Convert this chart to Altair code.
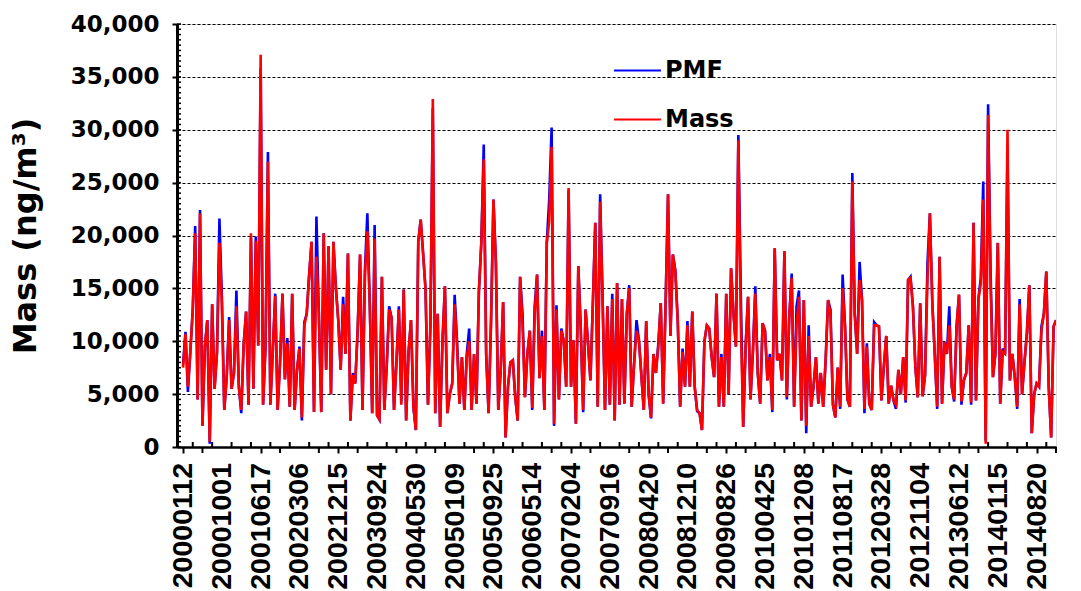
import altair as alt
import pandas as pd

# Sampling dates shown on the category axis (one label every 16 samples)
date_labels = [
    "20000112", "20001001", "20010617", "20020306", "20021215", "20030924",
    "20040530", "20050109", "20050925", "20060514", "20070204", "20070916",
    "20080420", "20081210", "20090826", "20100425", "20101208", "20110817",
    "20120328", "20121104", "20130612", "20140115", "20140820",
]
samples_per_label = 16

# Measured PM mass, thousand ng/m3
mass_k = [
    7.5, 10.7, 5.7, 9.0, 13.0, 20.2, 4.5, 22.1, 2.0, 9.5, 12.0, 0.5, 13.5, 5.5, 9.0, 19.3,
    13.5, 3.5, 6.6, 12.0, 5.5, 7.0, 13.3, 5.7, 3.5, 9.7, 12.8, 4.0, 20.2, 5.5, 19.5, 9.6,
    37.1, 4.0, 9.5, 27.0, 4.0, 9.0, 14.3, 3.5, 8.0, 14.5, 6.4, 9.8, 3.8, 14.5, 3.5, 7.3,
    9.3, 2.8, 11.5, 12.6, 16.3, 19.4, 3.3, 18.0, 12.6, 3.3, 20.2, 7.3, 19.0, 5.0, 19.4, 15.0,
    12.0, 7.3, 13.5, 8.8, 18.3, 2.5, 6.8, 6.0, 11.0, 18.2, 3.5, 16.2, 20.4, 13.5, 3.2, 19.7,
    3.0, 2.6, 16.1, 3.5, 7.7, 13.0, 12.2, 3.5, 8.0, 13.0, 4.0, 14.9, 2.5, 9.0, 12.0, 3.8,
    1.6, 19.4, 21.5, 18.3, 14.9, 4.0, 11.4, 32.9, 3.2, 12.6, 1.9, 10.1, 15.2, 3.2, 5.0, 6.0,
    13.5, 9.5, 4.1, 8.5, 3.5, 8.5, 10.0, 3.5, 8.8, 4.1, 14.7, 19.3, 27.2, 8.8, 3.2, 11.5,
    23.4, 17.5, 3.5, 7.3, 13.7, 0.9, 5.7, 8.0, 8.2, 4.7, 2.5, 16.1, 11.5, 4.7, 8.8, 11.0,
    3.7, 12.5, 16.3, 6.5, 10.5, 3.5, 19.3, 21.3, 28.4, 2.2, 13.0, 4.5, 11.0, 10.0, 5.7, 24.5,
    5.7, 10.1, 2.2, 17.1, 11.0, 3.5, 13.0, 9.8, 6.3, 13.5, 21.2, 3.8, 23.2, 14.2, 3.5, 13.3,
    4.0, 14.0, 2.5, 15.5, 4.0, 14.0, 4.1, 12.6, 15.0, 3.8, 7.8, 11.0, 10.1, 6.8, 3.5, 11.9,
    5.0, 2.8, 8.8, 7.0, 9.5, 13.6, 4.1, 13.6, 23.9, 10.5, 18.2, 16.7, 12.0, 3.8, 9.0, 5.7,
    11.5, 5.7, 12.8, 5.7, 3.5, 3.2, 1.6, 10.0, 11.5, 11.2, 8.5, 6.6, 14.5, 3.8, 8.5, 3.8,
    14.5, 5.0, 16.9, 12.6, 9.5, 29.0, 12.0, 1.9, 9.5, 14.2, 4.5, 9.0, 14.5, 7.0, 4.1, 11.7,
    11.0, 6.3, 8.5, 3.5, 18.8, 8.2, 8.8, 6.3, 18.5, 4.7, 12.3, 16.0, 3.8, 11.5, 14.2, 2.5,
    13.9, 2.0, 10.5, 3.8, 5.7, 8.5, 4.1, 7.0, 3.8, 8.2, 13.9, 12.5, 4.0, 2.8, 7.5, 3.8,
    15.0, 11.4, 4.5, 3.8, 25.1, 12.6, 8.8, 15.8, 13.9, 3.6, 9.5, 4.1, 3.5, 11.5, 11.5, 11.4,
    4.4, 7.6, 10.5, 4.1, 5.8, 4.4, 4.0, 7.3, 5.0, 8.5, 4.4, 15.8, 16.0, 13.3, 7.6, 4.7,
    13.6, 4.8, 6.8, 15.8, 22.1, 13.6, 8.8, 3.8, 18.0, 4.1, 9.9, 8.8, 11.5, 5.7, 4.5, 11.4,
    14.4, 4.3, 6.3, 7.0, 11.5, 4.2, 21.2, 4.4, 14.0, 15.5, 23.4, 0.3, 31.4, 15.5, 6.6, 8.8,
    19.3, 4.1, 9.0, 8.8, 30.0, 6.3, 8.8, 6.6, 3.8, 13.5, 5.0, 8.0, 10.8, 15.3, 1.3, 5.0,
    6.0, 5.7, 11.0, 12.6, 16.6, 5.7, 0.9, 11.4, 12.0,
]

# PMF-reconstructed mass, thousand ng/m3
pmf_k = [
    7.8, 10.9, 5.2, 9.0, 13.0, 20.9, 4.5, 22.4, 2.0, 9.5, 12.0, 0.3, 13.5, 5.5, 9.0, 21.6,
    14.2, 3.5, 6.6, 12.3, 5.5, 7.0, 14.8, 5.7, 3.2, 9.7, 12.8, 4.0, 19.8, 5.5, 19.9, 9.6,
    35.8, 4.0, 9.5, 27.9, 4.0, 9.0, 14.5, 3.5, 8.0, 14.5, 6.4, 10.3, 3.8, 14.5, 3.5, 7.3,
    9.5, 2.5, 11.8, 12.6, 16.3, 19.4, 3.3, 21.8, 12.6, 3.3, 20.2, 7.3, 19.0, 5.0, 19.4, 15.2,
    12.0, 7.3, 14.2, 8.8, 18.3, 2.5, 7.0, 6.0, 11.0, 18.2, 3.5, 16.7, 22.1, 13.5, 3.2, 21.0,
    3.0, 2.6, 16.1, 3.5, 7.7, 13.3, 12.2, 3.5, 8.0, 13.3, 4.3, 14.9, 2.5, 9.0, 12.0, 3.8,
    1.6, 19.4, 21.5, 18.3, 14.9, 4.0, 11.4, 32.0, 3.2, 12.6, 1.9, 10.1, 15.2, 3.2, 5.0, 6.0,
    14.4, 10.0, 4.1, 8.5, 3.5, 8.8, 11.2, 3.5, 8.8, 4.1, 14.7, 19.3, 28.6, 8.8, 3.2, 12.0,
    23.4, 17.5, 3.5, 7.3, 13.7, 0.9, 5.7, 8.0, 8.2, 4.7, 2.5, 16.1, 12.6, 4.7, 8.8, 11.0,
    3.5, 13.3, 16.3, 6.5, 11.0, 3.5, 19.3, 23.4, 30.2, 2.0, 13.4, 4.5, 11.2, 10.0, 5.7, 24.3,
    5.7, 10.1, 2.2, 17.1, 11.4, 3.3, 13.0, 9.8, 6.3, 13.7, 21.2, 3.8, 23.9, 14.2, 3.5, 13.3,
    4.0, 14.5, 2.5, 15.5, 4.0, 14.0, 4.1, 12.6, 15.3, 3.8, 7.8, 12.0, 10.1, 6.8, 3.5, 11.9,
    5.0, 2.7, 8.8, 7.0, 9.8, 13.6, 4.1, 13.6, 23.9, 10.5, 18.2, 16.7, 12.0, 3.8, 9.3, 5.7,
    11.9, 5.7, 12.8, 5.7, 3.4, 3.2, 1.6, 10.0, 11.5, 11.2, 8.5, 6.6, 14.5, 3.8, 8.8, 3.8,
    14.5, 5.0, 16.9, 12.6, 9.5, 29.5, 14.8, 1.9, 9.5, 14.2, 4.5, 9.0, 15.2, 7.0, 4.1, 11.7,
    11.0, 6.3, 8.8, 3.3, 18.8, 8.2, 8.8, 6.3, 18.5, 4.5, 12.3, 16.4, 3.8, 13.3, 14.8, 2.5,
    13.9, 1.3, 11.5, 3.8, 5.7, 8.5, 4.1, 7.0, 3.8, 8.2, 13.9, 13.0, 4.0, 2.8, 7.5, 3.6,
    16.3, 11.4, 4.5, 3.8, 25.9, 12.6, 8.8, 17.5, 13.9, 3.2, 9.8, 4.1, 3.5, 11.8, 11.5, 11.4,
    4.4, 7.6, 10.5, 4.1, 5.8, 4.4, 3.6, 7.3, 5.0, 8.5, 4.2, 15.8, 16.1, 13.3, 7.6, 4.7,
    13.6, 4.8, 6.8, 17.4, 22.1, 13.6, 8.8, 3.6, 18.0, 4.1, 9.9, 8.8, 13.3, 5.7, 4.3, 11.4,
    14.4, 4.0, 6.3, 7.0, 11.5, 4.0, 21.2, 4.4, 14.0, 16.0, 25.1, 0.6, 32.4, 16.9, 6.6, 8.8,
    19.3, 4.1, 9.3, 8.8, 28.0, 6.3, 8.8, 6.6, 3.6, 14.0, 5.0, 8.0, 10.8, 15.3, 1.3, 5.0,
    6.0, 5.7, 11.4, 12.6, 16.6, 5.7, 0.9, 11.4, 12.0,
]

series_names = ["PMF", "Mass"]
series_colors = ["#0000FF", "#FF0000"]

y_major = list(range(0, 40001, 5000))
y_minor = list(range(0, 40001, 500))

df = pd.DataFrame({
    "idx": list(range(len(mass_k))),
    "Mass": [v * 1000 for v in mass_k],
    "PMF": [v * 1000 for v in pmf_k],
})

half = samples_per_label // 2
last_label_pos = samples_per_label * (len(date_labels) - 1)
x_label_pos = list(range(0, last_label_pos + 1, samples_per_label))
x_mid_ticks = list(range(half, last_label_pos + half + 1, samples_per_label))
x_inner_ticks = list(range(half // 2, last_label_pos + half, half))
labels_df = pd.DataFrame({"p": x_label_pos, "date": date_labels})

WIDE = "DejaVu Sans"
ARIAL = "Liberation Sans"
W, H = 879, 423

x_scale = alt.Scale(domain=[-2.5, 360], nice=False, zero=False)
y_scale = alt.Scale(domain=[0, 40000], nice=False)

x_enc = alt.X(
    "idx:Q",
    scale=x_scale,
    axis=alt.Axis(
        values=x_label_pos,
        labels=False,
        tickSize=6,
        tickWidth=2,
        tickColor="black",
        domainColor="black",
        domainWidth=2.5,
        grid=False,
        title=None,
    ),
)

y_axis = alt.Axis(
    values=y_major,
    format=",d",
    labelFont=WIDE,
    labelFontWeight="bold",
    labelFontSize=23,
    labelColor="black",
    labelPadding=13,
    tickSize=5,
    tickWidth=2,
    tickColor="black",
    domainColor="black",
    domainWidth=3,
    grid=True,
    gridColor="black",
    gridDash=[3, 2],
    gridWidth=1,
    gridOpacity=1,
    title="Mass (ng/m³)",
    titleFont=WIDE,
    titleFontWeight="bold",
    titleFontSize=32,
    titleColor="black",
    titlePadding=28,
)

color_scale = alt.Scale(domain=series_names, range=series_colors)
legend = alt.Legend(
    title=None,
    orient="none",
    legendX=436,
    legendY=22,
    symbolType="stroke",
    symbolSize=2200,
    symbolStrokeWidth=2,
    labelFont=WIDE,
    labelFontWeight="bold",
    labelFontSize=24,
    labelColor="black",
    labelOffset=3,
    rowPadding=12,
)

base = alt.Chart(df).transform_fold(series_names, as_=["series", "value"])

pmf_line = base.transform_filter(alt.datum.series == "PMF").mark_line(
    strokeWidth=2.6, clip=True
).encode(
    x=x_enc,
    y=alt.Y("value:Q", scale=y_scale, axis=y_axis),
    color=alt.Color("series:N", scale=color_scale, legend=legend),
)

mass_line = base.transform_filter(alt.datum.series == "Mass").mark_line(
    strokeWidth=2.6, clip=True
).encode(
    x=alt.X("idx:Q", scale=x_scale),
    y=alt.Y("value:Q", scale=y_scale),
    color=alt.Color("series:N", scale=color_scale),
)

# inward minor ticks on the value axis
y_minor_ticks = alt.Chart(pd.DataFrame({"v": y_minor})).mark_rule(
    color="black", strokeWidth=1.5
).encode(
    y=alt.Y("v:Q", scale=y_scale),
    x=alt.value(0),
    x2=alt.value(4),
)

# outward ticks between the labelled dates
x_mid = alt.Chart(pd.DataFrame({"p": x_mid_ticks})).mark_rule(
    color="black", strokeWidth=2
).encode(
    x=alt.X("p:Q", scale=x_scale),
    y=alt.value(H),
    y2=alt.value(H + 6),
)

# inward minor ticks on the category axis
x_inner = alt.Chart(pd.DataFrame({"p": x_inner_ticks})).mark_rule(
    color="black", strokeWidth=2
).encode(
    x=alt.X("p:Q", scale=x_scale),
    y=alt.value(H - 5),
    y2=alt.value(H),
)

# rotated date labels under the category axis
date_text = alt.Chart(labels_df).mark_text(
    angle=270,
    align="right",
    baseline="middle",
    font=ARIAL,
    fontWeight="bold",
    fontSize=28.5,
    color="black",
).encode(
    x=alt.X("p:Q", scale=x_scale),
    y=alt.value(H + 16),
    text="date:N",
)

chart = (
    alt.layer(pmf_line, mass_line, y_minor_ticks, x_mid, x_inner, date_text)
    .properties(
        width=W,
        height=H,
        padding={"left": 177, "top": 24, "right": 25, "bottom": 144},
        autosize=alt.AutoSizeParams(type="none"),
    )
    .configure_view(stroke=None)
    .configure(background="white")
)

chart.save("out.html", embed_options={"renderer": "svg", "actions": False})
